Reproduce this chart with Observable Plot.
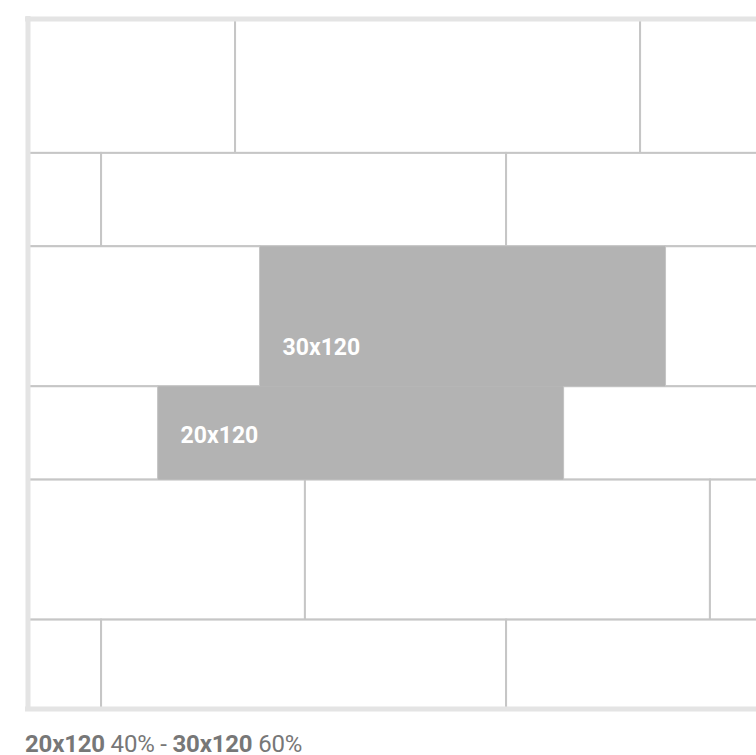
<!DOCTYPE html>
<html>
<head>
<meta charset="utf-8">
<script src="https://cdn.jsdelivr.net/npm/d3@7"></script>
<script src="https://cdn.jsdelivr.net/npm/@observablehq/plot@0.6"></script>
<style>
  html, body { margin: 0; padding: 0; background: #fff; overflow: hidden; }
  #chart svg { display: block; }
  #caption {
    font-family: Roboto, "Liberation Sans", Arial, sans-serif;
    font-size: 24px; line-height: 26px; color: #777;
    padding-left: 25px; margin-top: 15px; letter-spacing: -0.2px;
  }
  #caption b { font-weight: bold; }
</style>
</head>
<body>
<div id="chart"></div>
<div id="caption"><b>20x120</b> 40% - <b>30x120</b> 60%</div>
<script>
// Tile layout (cm): row heights from the top, with the running joint offset per row
const rowHeights = [30, 20, 30, 20, 30, 20];
const rowOffsets = [61.5, 21.8, 68.9, 38.7, 82.2, 21.8];
const tileLength = 120;
const firstRowTop = -1.2;
const viewWidth = 215.85;
const viewHeight = 147.85;

// highlighted tiles: row index, tile start, label, label height within view
const highlightRows = [2, 3];
const highlightStarts = [68.9, 38.7];
const highlightLabels = ["30x120", "20x120"];
const labelY = [70.4, 89.2];

// row tops
const rowTops = [];
{ let t = firstRowTop; rowHeights.forEach(h => { rowTops.push(t); t += h; }); }

// build tiles
const tiles = [];
rowHeights.forEach((h, r) => {
  let x = rowOffsets[r] - tileLength;
  while (x < viewWidth) {
    tiles.push({row: r, x1: x, x2: x + tileLength, y1: rowTops[r], y2: rowTops[r] + h});
    x += tileLength;
  }
});

const highlights = highlightRows.map((r, i) => ({
  x1: highlightStarts[i], x2: highlightStarts[i] + tileLength,
  y1: rowTops[r], y2: rowTops[r] + rowHeights[r],
  label: highlightLabels[i], ly: labelY[i]
}));

const chart = Plot.plot({
  width: 756,
  height: 716,
  marginLeft: 27.5,
  marginRight: 0,
  marginTop: 18.5,
  marginBottom: 7.5,
  x: {domain: [0, viewWidth], axis: null},
  y: {domain: [0, viewHeight], axis: null, reverse: true},
  marks: [
    Plot.rect(tiles, {x1: "x1", x2: "x2", y1: "y1", y2: "y2", fill: "#fff", stroke: "#c6c6c6", strokeWidth: 2, clip: "frame"}),
    Plot.rect(highlights, {x1: "x1", x2: "x2", y1: "y1", y2: "y2", fill: "#b3b3b3", clip: "frame"}),
    Plot.text(highlights, {x: "x1", y: "ly", text: "label", dx: 22, textAnchor: "start", lineAnchor: "middle",
      fill: "#fff", fontWeight: "bold", fontSize: 23, fontFamily: "Roboto, 'Liberation Sans', Arial, sans-serif"}),
    Plot.ruleX([0], {stroke: "#e4e4e4", strokeWidth: 5, strokeLinecap: "square"}),
    Plot.ruleY([0, viewHeight], {stroke: "#e4e4e4", strokeWidth: 5, strokeLinecap: "square"})
  ]
});
document.getElementById("chart").appendChild(chart);
</script>
</body>
</html>
